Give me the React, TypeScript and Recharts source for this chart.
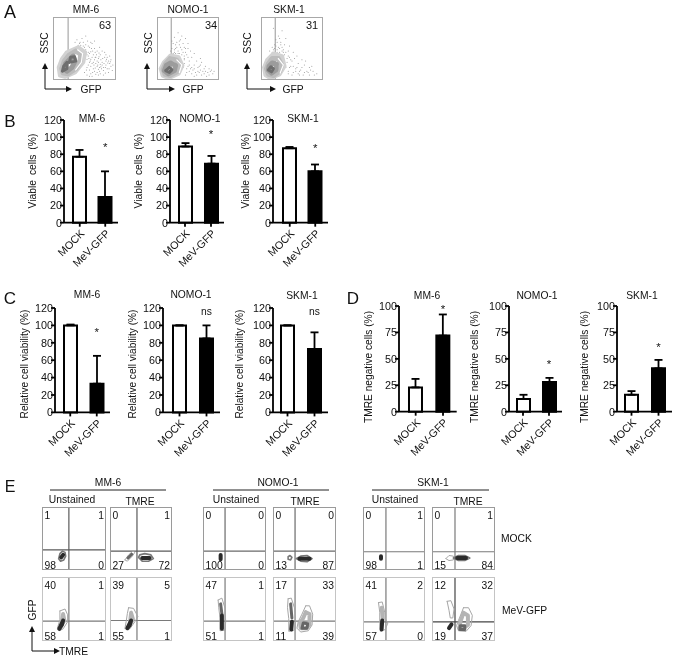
import React from "react";
import { BarChart, Bar, Cell, XAxis, YAxis, ErrorBar, ReferenceDot, ScatterChart, Scatter, ReferenceLine } from "recharts";

const FONT = '"Liberation Sans", Arial, sans-serif';
const GROUPS = ["MOCK", "MeV-GFP"];

// Panel B values
const bMM6 = [77, 30];
const bMM6Err = [8, 30];
const bNOMO = [89, 69];
const bNOMOErr = [4, 9];
const bSKM = [87, 60];
const bSKMErr = [1.5, 8];
// Panel C values
const cMM6 = [100, 33];
const cMM6Err = [1, 32];
const cNOMO = [100, 85];
const cNOMOErr = [0, 15];
const cSKM = [100, 73];
const cSKMErr = [0, 19];
// Panel D values
const dMM6 = [23, 72];
const dMM6Err = [8, 20];
const dNOMO = [12, 28];
const dNOMOErr = [4, 4];
const dSKM = [16, 41];
const dSKMErr = [3.5, 8];

const TICKS_120 = [0, 20, 40, 60, 80, 100, 120];
const TICKS_100 = [0, 25, 50, 75, 100];

// Panel A event dots (percent of the plot)
const aMM6Dots = [[55,62],[62,58],[48,60],[44,55],[58,52],[66,50],[52,48],[60,45],[70,46],[75,40],[64,40],[56,38],[82,36],[72,34],[60,33],[88,30],[78,28],[68,26],[58,28],[84,24],[92,22],[74,20],[64,18],[54,20],[80,15],[70,12],[60,10],[88,12],[50,12],[46,66],[38,64],[42,58],[52,70],[66,62],[74,52],[82,44],[90,38],[68,36],[76,32],[86,18],[94,15],[72,8],[62,6],[80,8],[54,8],[48,54],[56,44],[62,26],[70,22],[66,14],[78,24],[84,30],[58,16],[90,26],[74,14],[92,32],[50,42],[66,32],[72,28],[80,20],
  [52,56],[56,54],[61,50],[63,46],[67,44],[58,42],[62,36],[69,40],[73,37],[79,34],[85,33],[57,34],[64,28],[70,30],[75,25],[81,26],[87,27],[60,22],[67,19],[72,17],[77,18],[83,20],[89,18],[56,24],[63,12],[68,9],[75,10],[83,11],[58,6],[53,16],[49,46],[54,40],[46,50],[43,60],[50,52],[35,60],[40,55],[65,24],[71,24],[76,21],[59,30],[67,36],[73,43],[78,46],[84,40],[54,33],[91,29],[95,24],[86,36],[60,60]];
const aNOMODots = [[34,75],[40,70],[28,68],[46,66],[36,62],[24,62],[42,58],[30,56],[50,58],[38,52],[46,50],[24,50],[54,46],[34,46],[42,44],[60,42],[28,44],[48,40],[56,36],[64,30],[72,28],[52,30],[60,24],[68,22],[78,22],[84,18],[50,22],[58,16],[66,14],[74,14],[82,12],[90,10],[48,12],[56,10],[64,8],[72,8],[80,6],[88,16],[70,34],[44,34],[36,42],[30,50],[26,58],[40,48],[44,26],[54,18],[62,12],[92,14],[76,18],[50,50],
  [32,52],[36,56],[44,52],[28,48],[34,42],[40,40],[22,46],[26,42],[46,44],[50,36],[44,38],[20,40],[52,24],[56,20],[48,18],[46,8],[60,18],[66,20],[70,16],[52,14],[60,6],[68,12],[76,10],[84,8],[86,14],[78,14],[70,24],[42,20],[44,32],[38,64],[32,60],[30,42]];
const aSKMDots = [[20,82],[34,78],[28,70],[40,66],[24,64],[32,60],[22,56],[38,56],[46,54],[28,52],[36,48],[20,48],[44,46],[30,44],[52,44],[24,42],[38,40],[58,38],[46,36],[66,32],[50,30],[60,26],[70,24],[78,20],[48,22],[56,18],[64,16],[74,14],[84,14],[90,10],[52,12],[60,10],[68,8],[78,8],[86,8],[44,14],[42,28],[34,52],[26,60],[30,66],[18,52],[72,30],[82,22],[54,34],[62,14],
  [26,48],[30,50],[22,50],[34,46],[40,44],[18,44],[26,44],[44,38],[48,32],[42,34],[46,20],[52,22],[58,20],[44,10],[50,8],[56,14],[62,8],[70,12],[76,12],[80,16],[66,20],[40,20],[36,44],[32,56],[24,54],[14,46]];

// Panel A density contours
const aMM6Outer = [[9,20],[11,7],[19,5],[35,12],[48,28],[51,44],[40,52],[22,44],[14,33]];
const aMM6Mid = [[14,18],[16,11],[24,10],[36,18],[43,30],[44,41],[36,46],[25,39],[18,30]];
const aMM6Inner = [[18,18],[22,14],[30,20],[35,30],[32,38],[26,32],[20,26]];
const aMM6Core = [[15,14],[22,18],[22,28],[17,22]];
const aMM6Core2 = [[26,28],[36,30],[34,37],[28,36]];
const aMM6Ring = [[36,16],[45,28],[47,42],[39,48],[47,42],[45,28]];
const aNOMOOuter = [[6,18],[9,7],[19,3],[35,10],[41,23],[35,36],[22,39],[11,28]];
const aNOMOMid = [[10,17],[13,9],[21,7],[32,13],[36,24],[31,32],[21,34],[14,26]];
const aNOMOInner = [[12,15],[18,10],[28,15],[30,23],[22,27],[15,23]];
const aNOMOCore = [[14,15],[20,12],[24,16],[20,20]];
const aNOMORing = [[32,32],[40,24],[36,12],[40,24]];
const aSKMOuter = [[5,20],[7,8],[15,3],[30,9],[38,22],[34,38],[20,42],[10,32]];
const aSKMMid = [[9,18],[12,9],[20,7],[30,14],[33,24],[28,34],[18,34],[12,26]];
const aSKMInner = [[12,16],[17,11],[24,16],[25,25],[18,27],[13,22]];
const aSKMCore = [[12,16],[17,13],[20,18],[16,21]];
const aSKMRing = [[28,34],[36,24],[31,11],[36,24]];

// Panel E contours
const eA_light = [[26,18],[29,14],[34,16],[37,22],[36,28],[32,30],[28,26]];
const eA_dark = [[30,20],[33,24]];
const eB_light = [[24,16],[28,14],[36,22],[40,28],[37,30],[30,24]];
const eB_mid = [[29,19],[35,25]];
const eB2_light = [[46,20],[52,14],[62,14],[70,18],[66,24],[56,26],[48,24]];
const eB2_dark = [[52,19],[64,19]];
const eC_light = [[28,47],[36,50],[40,41],[40,30],[33,19],[27,16],[24,20],[28,33]];
const eC_soft = [[33,42],[35,32],[30,24]];
const eC_dark = [[33,32],[31,25],[27,19]];
const eD_light = [[30,52],[38,51],[45,38],[40,30],[32,19],[24,19],[26,30],[28,43]];
const eD_soft = [[34,44],[37,34],[32,26]];
const eD_dark = [[34,32],[32,25],[28,20]];
const eE_dark = [[28,17],[28,24]];
const eF_spot = [[24,17],[28,16],[30,20],[27,23],[24,21]];
const eF_dark = [[42,18],[58,18]];
const eF_light = [[37,18],[44,14],[54,13],[62,18],[54,23],[44,22]];
const eG_light = [[24,64],[30,67],[35,51],[36,30],[35,17],[27,16],[27,36],[25,52]];
const eG_dark = [[30,40],[30,19]];
const eG_mid = [[28,58],[30,42]];
const eH_left = [[24,66],[29,67],[34,52],[36,30],[34,17],[25,15],[25,35],[23,52]];
const eH_leftMid = [[28,58],[30,36]];
const eH_core = [[30,30],[29,18]];
const eH_right = [[52,55],[58,55],[63,42],[62,25],[56,16],[44,14],[38,20],[40,30],[46,42]];
const eH_rightMid = [[52,45],[58,42],[58,25],[52,20],[44,20],[43,28],[48,36]];
const eH_rightCore = [[46,20],[54,20],[55,27],[48,28]];
const eI_dark = [[29,18],[29,22]];
const eJ_spot = [[22,18],[27,15],[34,16],[34,22],[27,23]];
const eJ_light = [[34,19],[42,15],[52,15],[60,19],[52,23],[42,23]];
const eJ_dark = [[40,19],[54,19]];
const eK_light = [[25,60],[31,61],[35,45],[36,35],[40,28],[36,18],[28,15],[27,28],[27,45]];
const eK_mid = [[30,52],[32,34]];
const eK_dark = [[31,32],[30,18]];
const eL_left = [[24,62],[30,63],[35,50],[33,36],[29,36],[27,48]];
const eL_core = [[27,20],[31,26]];
const eL_right = [[50,52],[58,52],[64,40],[62,24],[54,15],[42,16],[39,24],[42,32],[46,42]];
const eL_rightMid = [[50,44],[57,40],[57,25],[50,20],[44,22],[45,30]];
const eL_rightCore = [[44,18],[52,18],[52,24],[45,24]];

const STYLE: Record<string, any> = {
  a1: { stroke: "#d2d2d2", strokeWidth: 4 },
  a2: { stroke: "#bcbcbc", strokeWidth: 5 },
  a3: { stroke: "#9c9c9c", strokeWidth: 5 },
  a4: { stroke: "#6e6e6e", strokeWidth: 3 },
  ring: { stroke: "#ffffff", strokeWidth: 1.2 },
  light: { stroke: "#a6a6a6", strokeWidth: 1 },
  soft: { stroke: "#b4b4b4", strokeWidth: 4 },
  mid: { stroke: "#777777", strokeWidth: 1.6 },
  grey: { stroke: "#666666", strokeWidth: 3 },
  dark: { stroke: "#2a2a2a", strokeWidth: 4 },
};

const loop = (a: number[][]) => [...a, a[0]].map(([x, y]) => ({ x, y }));
const dotsOf = (a: number[][]) => a.map(([x, y]) => ({ x, y }));
const NoMark = () => <g />;
const Dot = (p: any) => <circle cx={p.cx} cy={p.cy} r={0.5} fill="#8f8f8f" />;

type Contour = [number[][], string];

function Flow(props: {
  x: number; y: number; w: number; h: number; vx: number; hy?: number;
  contours: Contour[]; dots?: number[][]; border: string; bw?: number; lineColor: string;
}) {
  const { x, y, w, h, vx, hy, contours, dots, border, bw = 1.5, lineColor } = props;
  return (
    <div style={{ position: "absolute", left: x, top: y, width: w, height: h }}>
      <ScatterChart width={w} height={h} margin={{ top: 0, right: 0, bottom: 0, left: 0 }}>
        <XAxis type="number" dataKey="x" domain={[0, 100]} hide />
        <YAxis type="number" dataKey="y" domain={[0, 100]} hide />
        {dots ? <Scatter data={dotsOf(dots)} shape={Dot} isAnimationActive={false} /> : null}
        {contours.map(([c, s], i) => (
          <Scatter
            key={i}
            data={loop(c)}
            line={{ ...STYLE[s], strokeLinecap: "round", strokeLinejoin: "round" }}
            lineType="joint"
            shape={NoMark}
            isAnimationActive={false}
          />
        ))}
        <ReferenceLine x={vx} stroke={lineColor} strokeWidth={1.2} />
        {hy !== undefined ? <ReferenceLine y={hy} stroke={lineColor} strokeWidth={1.2} /> : null}
      </ScatterChart>
      <div style={{ position: "absolute", inset: 0, boxSizing: "border-box", border: `${bw}px solid ${border}` }} />
    </div>
  );
}

function Bars(props: {
  spine: number; end: number; top: number; bottom: number; ymax: number; ticks: number[];
  values: number[]; errs: number[]; pad: number; mark?: string; markY?: number;
}) {
  const { spine, end, top, bottom, ymax, ticks, values, errs, pad, mark, markY } = props;
  const data = GROUPS.map((g, i) => ({ g, v: values[i], e: [0, errs[i]] }));
  const LEFT = 40, TOP = 8, RIGHT = 4, BOTTOM = 56;
  return (
    <div style={{ position: "absolute", left: spine - LEFT, top: top - TOP }}>
      <BarChart
        width={end - spine + LEFT + RIGHT}
        height={bottom - top + TOP + BOTTOM}
        data={data}
        margin={{ top: TOP, right: RIGHT, bottom: 0, left: 0 }}
        barCategoryGap={0}
      >
        <XAxis
          dataKey="g"
          height={BOTTOM}
          interval={0}
          padding={{ left: pad, right: 0 }}
          tickSize={4}
          tickLine={{ stroke: "#000", strokeWidth: 1.8 }}
          axisLine={{ stroke: "#000", strokeWidth: 1.8 }}
          tick={{ fontSize: 10.8, fill: "#111", fontFamily: FONT }}
          angle={-45}
          textAnchor="end"
        />
        <YAxis
          width={LEFT}
          domain={[0, ymax]}
          ticks={ticks}
          tickSize={4}
          tickMargin={0}
          tickLine={{ stroke: "#000", strokeWidth: 1.8 }}
          axisLine={{ stroke: "#000", strokeWidth: 1.8 }}
          tick={{ fontSize: 10.8, fill: "#111", fontFamily: FONT, dx: 2 }}
        />
        <Bar dataKey="v" barSize={13} stroke="#000" strokeWidth={2} isAnimationActive={false}>
          {data.map((d, i) => (
            <Cell key={d.g} fill={i === 0 ? "#fff" : "#000"} />
          ))}
          <ErrorBar dataKey="e" direction="y" width={4} stroke="#000" strokeWidth={1.8} isAnimationActive={false} />
        </Bar>
        {mark ? (
          <ReferenceDot
            x="MeV-GFP"
            y={markY}
            r={0}
            ifOverflow="visible"
            label={{ value: mark, position: "center", fontSize: mark === "*" ? 11.5 : 10.3, fill: "#111", fontFamily: FONT }}
          />
        ) : null}
      </BarChart>
    </div>
  );
}

function T(p: { x: number; y: number; s?: string; size?: number; a?: "start" | "middle" | "end"; r?: number; ws?: number }) {
  const { x, y, s, size = 10.3, a = "middle", r, ws } = p;
  return (
    <text
      x={x}
      y={y}
      fontSize={size}
      textAnchor={a}
      dominantBaseline="central"
      fill="#111"
      fontFamily={FONT}
      wordSpacing={ws}
      transform={r ? `rotate(${r} ${x} ${y})` : undefined}
    >
      {s}
    </text>
  );
}

function Axes2(p: { x: number; y: number; top: number; right: number }) {
  const { x, y, top, right } = p;
  return (
    <g>
      <line x1={x} y1={y} x2={x} y2={top + 3} stroke="#111" strokeWidth={1} />
      <line x1={x} y1={y} x2={right - 3} y2={y} stroke="#111" strokeWidth={1} />
      <polygon points={`${x - 3},${top + 4} ${x + 3},${top + 4} ${x},${top - 2}`} fill="#111" />
      <polygon points={`${right - 4},${y - 3} ${right - 4},${y + 3} ${right + 2},${y}`} fill="#111" />
    </g>
  );
}

// quadrant percentages: top-left, top-right, bottom-left, bottom-right
const QUADS = {
  mmU1: [1, 1, 98, 0], mmT1: [0, 1, 27, 72], mmU2: [40, 1, 58, 1], mmT2: [39, 5, 55, 1],
  noU1: [0, 0, 100, 0], noT1: [0, 0, 13, 87], noU2: [47, 1, 51, 1], noT2: [17, 33, 11, 39],
  skU1: [0, 1, 98, 1], skT1: [0, 1, 15, 84], skU2: [41, 2, 57, 0], skT2: [12, 32, 19, 37],
};

function Quad(p: { x: number; y: number; w: number; h: number; q: number[] }) {
  const { x, y, w, h, q } = p;
  return (
    <g>
      <T x={x + 2.5} y={y + 8} s={String(q[0])} a="start" />
      <T x={x + w - 2} y={y + 8} s={String(q[1])} a="end" />
      <T x={x + 2.5} y={y + h - 5} s={String(q[2])} a="start" />
      <T x={x + w - 2} y={y + h - 5} s={String(q[3])} a="end" />
    </g>
  );
}

const ROW1 = { y: 507, h: 63 };
const ROW2 = { y: 577, h: 64 };

export default function App() {
  return (
    <div style={{ position: "absolute", left: 0, top: 0, width: 677, height: 659, background: "#fff", overflow: "hidden", filter: "blur(0.35px)" }}>
      {/* A */}
      <Flow x={53} y={17} w={63} h={63} vx={24} dots={aMM6Dots} border="#a8a8a8" lineColor="#a8a8a8"
        contours={[[aMM6Outer, "a1"], [aMM6Mid, "a2"], [aMM6Inner, "a3"], [aMM6Core, "a4"], [aMM6Core2, "a4"], [aMM6Ring, "ring"]]} />
      <Flow x={157} y={17} w={62} h={63} vx={23} dots={aNOMODots} border="#a8a8a8" lineColor="#a8a8a8"
        contours={[[aNOMOOuter, "a1"], [aNOMOMid, "a2"], [aNOMOInner, "a3"], [aNOMOCore, "a4"], [aNOMORing, "ring"]]} />
      <Flow x={261} y={17} w={62} h={63} vx={23} dots={aSKMDots} border="#a8a8a8" lineColor="#a8a8a8"
        contours={[[aSKMOuter, "a1"], [aSKMMid, "a2"], [aSKMInner, "a3"], [aSKMCore, "a4"], [aSKMRing, "ring"]]} />

      {/* B */}
      <Bars spine={64} end={118} top={120} bottom={222.7} ymax={120} ticks={TICKS_120} values={bMM6} errs={bMM6Err} pad={3} mark="*" markY={88} />
      <Bars spine={170} end={224} top={120} bottom={222.7} ymax={120} ticks={TICKS_120} values={bNOMO} errs={bNOMOErr} pad={2} mark="*" markY={104} />
      <Bars spine={273} end={328} top={120} bottom={222.7} ymax={120} ticks={TICKS_120} values={bSKM} errs={bSKMErr} pad={4} mark="*" markY={87} />

      {/* C */}
      <Bars spine={55} end={110} top={308.3} bottom={412.7} ymax={120} ticks={TICKS_120} values={cMM6} errs={cMM6Err} pad={2} mark="*" markY={93} />
      <Bars spine={163} end={220} top={308.3} bottom={412.7} ymax={120} ticks={TICKS_120} values={cNOMO} errs={cNOMOErr} pad={3} mark="ns" markY={116} />
      <Bars spine={273} end={328} top={308.3} bottom={412.7} ymax={120} ticks={TICKS_120} values={cSKM} errs={cSKMErr} pad={1} mark="ns" markY={116} />

      {/* D */}
      <Bars spine={399.3} end={457} top={306} bottom={411.7} ymax={100} ticks={TICKS_100} values={dMM6} errs={dMM6Err} pad={3} mark="*" markY={97} />
      <Bars spine={509} end={562} top={306} bottom={411.7} ymax={100} ticks={TICKS_100} values={dNOMO} errs={dNOMOErr} pad={1} mark="*" markY={45} />
      <Bars spine={617} end={672} top={306} bottom={411.7} ymax={100} ticks={TICKS_100} values={dSKM} errs={dSKMErr} pad={1} mark="*" markY={61} />

      {/* E flow panels */}
      <Flow x={42} y={ROW1.y} w={64} h={ROW1.h} vx={42} hy={32} border="#9a9a9a" lineColor="#5a5a5a" contours={[[eA_light, "mid"], [eA_dark, "dark"]]} />
      <Flow x={110} y={ROW1.y} w={62} h={ROW1.h} vx={43.5} hy={30} border="#9a9a9a" lineColor="#5a5a5a" contours={[[eB_light, "light"], [eB_mid, "grey"], [eB2_light, "mid"], [eB2_dark, "dark"]]} />
      <Flow x={42} y={ROW2.y} w={64} h={ROW2.h} vx={42} hy={31} border="#c4c4c4" lineColor="#7a7a7a" contours={[[eC_light, "light"], [eC_soft, "soft"], [eC_dark, "dark"]]} />
      <Flow x={110} y={ROW2.y} w={62} h={ROW2.h} vx={43.5} hy={32} border="#c4c4c4" lineColor="#7a7a7a" contours={[[eD_light, "light"], [eD_soft, "soft"], [eD_dark, "dark"]]} />

      <Flow x={203} y={ROW1.y} w={63} h={ROW1.h} vx={35} hy={30} border="#9a9a9a" lineColor="#6a6a6a" contours={[[eE_dark, "dark"]]} />
      <Flow x={273} y={ROW1.y} w={63} h={ROW1.h} vx={35} hy={30} border="#9a9a9a" lineColor="#6a6a6a" contours={[[eF_spot, "mid"], [eF_light, "mid"], [eF_dark, "dark"]]} />
      <Flow x={203} y={ROW2.y} w={63} h={ROW2.h} vx={35} hy={31} border="#c4c4c4" lineColor="#7a7a7a" contours={[[eG_light, "light"], [eG_mid, "grey"], [eG_dark, "dark"]]} />
      <Flow x={273} y={ROW2.y} w={63} h={ROW2.h} vx={35} hy={31} border="#c4c4c4" lineColor="#7a7a7a"
        contours={[[eH_left, "light"], [eH_leftMid, "grey"], [eH_core, "dark"], [eH_right, "light"], [eH_rightMid, "soft"], [eH_rightCore, "grey"]]} />

      <Flow x={363} y={ROW1.y} w={62} h={ROW1.h} vx={37} hy={29} border="#9a9a9a" lineColor="#7a7a7a" contours={[[eI_dark, "dark"]]} />
      <Flow x={432} y={ROW1.y} w={63} h={ROW1.h} vx={36.5} hy={29} border="#9a9a9a" lineColor="#7a7a7a" contours={[[eJ_spot, "light"], [eJ_light, "mid"], [eJ_dark, "dark"]]} />
      <Flow x={363} y={ROW2.y} w={62} h={ROW2.h} vx={37} hy={30} border="#c4c4c4" lineColor="#7a7a7a" contours={[[eK_light, "light"], [eK_mid, "soft"], [eK_dark, "dark"]]} />
      <Flow x={432} y={ROW2.y} w={63} h={ROW2.h} vx={36.5} hy={30} border="#c4c4c4" lineColor="#444444"
        contours={[[eL_left, "light"], [eL_core, "dark"], [eL_right, "light"], [eL_rightMid, "soft"], [eL_rightCore, "grey"]]} />

      {/* Text and arrows */}
      <svg width={677} height={659} style={{ position: "absolute", left: 0, top: 0, pointerEvents: "none" }}>
        <T x={10} y={12} s="A" size={18} />
        <T x={10} y={121} s="B" size={17} />
        <T x={10} y={298} s="C" size={17} />
        <T x={353} y={298} s="D" size={17} />
        <T x={10} y={486} s="E" size={16} />

        <T x={86} y={9} s="MM-6" />
        <T x={188} y={9} s="NOMO-1" />
        <T x={289} y={9} s="SKM-1" />
        <T x={105} y={25} s="63" size={11} />
        <T x={211} y={25} s="34" size={11} />
        <T x={312} y={25} s="31" size={11} />
        <T x={44} y={43} s="SSC" r={-90} />
        <T x={148} y={43} s="SSC" r={-90} />
        <T x={247} y={43} s="SSC" r={-90} />
        <T x={91} y={89} s="GFP" />
        <T x={193} y={89} s="GFP" />
        <T x={293} y={89} s="GFP" />
        <Axes2 x={45} y={89} top={65} right={70} />
        <Axes2 x={147} y={89} top={65} right={173} />
        <Axes2 x={247} y={89} top={65} right={274} />

        <T x={92} y={118} s="MM-6" />
        <T x={200} y={118} s="NOMO-1" />
        <T x={303} y={118} s="SKM-1" />
        <T x={32} y={171} s="Viable cells (%)" r={-90} ws={2} />
        <T x={138} y={171} s="Viable cells (%)" r={-90} ws={2} />
        <T x={245} y={171} s="Viable cells (%)" r={-90} ws={2} />

        <T x={87} y={294} s="MM-6" />
        <T x={191} y={294} s="NOMO-1" />
        <T x={302} y={295} s="SKM-1" />
        <T x={24} y={364} s="Relative cell viability (%)" size={10.1} r={-90} />
        <T x={132} y={364} s="Relative cell viability (%)" size={10.1} r={-90} />
        <T x={239} y={364} s="Relative cell viability (%)" size={10.1} r={-90} />

        <T x={427} y={295} s="MM-6" />
        <T x={537} y={295} s="NOMO-1" />
        <T x={642} y={295} s="SKM-1" />
        <T x={368} y={367} s="TMRE negative cells (%)" size={10.2} r={-90} />
        <T x={474} y={367} s="TMRE negative cells (%)" size={10.2} r={-90} />
        <T x={584} y={367} s="TMRE negative cells (%)" size={10.2} r={-90} />

        <T x={108} y={482} s="MM-6" />
        <T x={278} y={482} s="NOMO-1" />
        <T x={433} y={482} s="SKM-1" />
        <line x1={50} x2={166} y1={490} y2={490} stroke="#222" strokeWidth={1} />
        <line x1={213} x2={329} y1={490} y2={490} stroke="#222" strokeWidth={1} />
        <line x1={372} x2={489} y1={490} y2={490} stroke="#222" strokeWidth={1} />
        <T x={72} y={499} s="Unstained" />
        <T x={140} y={501} s="TMRE" />
        <T x={236} y={499} s="Unstained" />
        <T x={305} y={501} s="TMRE" />
        <T x={395} y={499} s="Unstained" />
        <T x={468} y={501} s="TMRE" />
        <T x={501} y={538} s="MOCK" a="start" />
        <T x={502} y={610} s="MeV-GFP" a="start" />

        <Quad x={42} y={ROW1.y} w={64} h={ROW1.h} q={QUADS.mmU1} />
        <Quad x={110} y={ROW1.y} w={62} h={ROW1.h} q={QUADS.mmT1} />
        <Quad x={42} y={ROW2.y} w={64} h={ROW2.h} q={QUADS.mmU2} />
        <Quad x={110} y={ROW2.y} w={62} h={ROW2.h} q={QUADS.mmT2} />
        <Quad x={203} y={ROW1.y} w={63} h={ROW1.h} q={QUADS.noU1} />
        <Quad x={273} y={ROW1.y} w={63} h={ROW1.h} q={QUADS.noT1} />
        <Quad x={203} y={ROW2.y} w={63} h={ROW2.h} q={QUADS.noU2} />
        <Quad x={273} y={ROW2.y} w={63} h={ROW2.h} q={QUADS.noT2} />
        <Quad x={363} y={ROW1.y} w={62} h={ROW1.h} q={QUADS.skU1} />
        <Quad x={432} y={ROW1.y} w={63} h={ROW1.h} q={QUADS.skT1} />
        <Quad x={363} y={ROW2.y} w={62} h={ROW2.h} q={QUADS.skU2} />
        <Quad x={432} y={ROW2.y} w={63} h={ROW2.h} q={QUADS.skT2} />

        <T x={32} y={610} s="GFP" r={-90} />
        <Axes2 x={32} y={651} top={628} right={58} />
        <T x={59} y={651} s="TMRE" a="start" />
      </svg>
    </div>
  );
}
